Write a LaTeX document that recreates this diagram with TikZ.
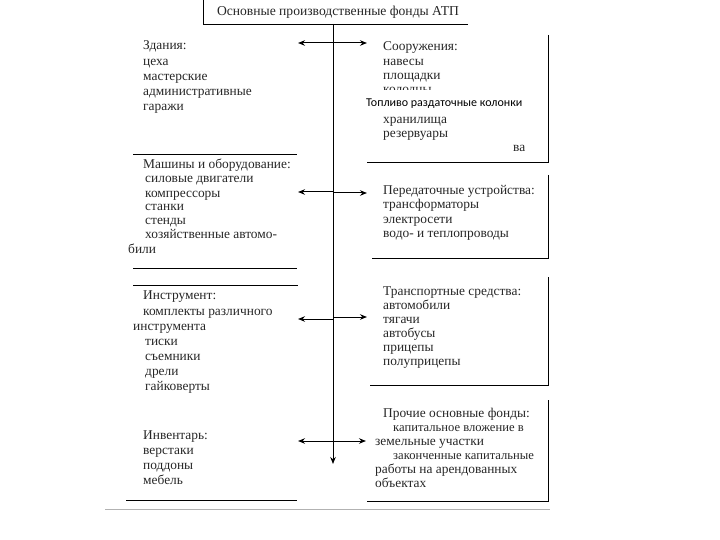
\documentclass[tikz,border=0pt]{standalone}
\usepackage{fontspec}
\setmainfont{Liberation Serif}
\newfontfamily\calibfont{Carlito}
\usetikzlibrary{arrows.meta}
\begin{document}
\begin{tikzpicture}[x=1pt,y=-1pt,
  txt/.style={anchor=base west,inner sep=0pt,text=black!85,font=\fontsize{13.4}{15}\selectfont},
  stxt/.style={txt,font=\fontsize{12.6}{15}\selectfont},
  ln/.style={line width=0.9pt,black},
  arr/.style={line width=1pt,{Stealth[length=7pt,width=5.5pt]}-{Stealth[length=7pt,width=5.5pt]}}]
\useasboundingbox (0,0) rectangle (720,540);
% top box
\node[anchor=center,inner sep=0pt,font=\fontsize{13.6}{15}\selectfont,text=black!85] (top) at (338,12) {Основные производственные фонды АТП};
\draw[ln] (468,24) -- (203,24) -- (203,0);
% spine
\coordinate (sp0) at (333,24);
\coordinate (sp1) at (333,464);
\draw[ln,-{Stealth[length=7pt,width=5.5pt]}] (sp0) -- (sp1);
% arrows
\coordinate (l1) at (298,43); \coordinate (r1) at (367,43);
\coordinate (l2) at (298,192); \coordinate (r2) at (367,193);
\draw[arr] (l1) -- (r1);
\draw[arr] (l2) -- (333,192) -- (333,193) -- (r2);
\coordinate (l3) at (298,319); \coordinate (r3) at (367,317);
\draw[arr] (l3) -- (333,319) -- (333,317) -- (r3);
\coordinate (l4) at (298,441); \coordinate (r4) at (366,441);
\draw[arr] (l4) -- (r4);
% left block 1
\node[txt] (a1) at (143,50) {Здания:};
\node[txt] (a2) at (143,65.5) {цеха};
\node[txt] (a3) at (143,81) {мастерские};
\node[txt] (a4) at (143,96) {административные};
\node[txt] (a5) at (143,111) {гаражи};
% left block 2
\draw[ln] (133,154) -- (297,154);
\node[txt] (b1) at (143,169) {Машины и оборудование:};
\node[txt] (b2) at (145,183) {силовые двигатели};
\node[txt] (b3) at (145,197) {компрессоры};
\node[txt] (b4) at (145,211) {станки};
\node[txt] (b5) at (145,225) {стенды};
\node[txt] (b6) at (145,239) {хозяйственные автомо-};
\node[txt] (b7) at (128,253) {били};
\draw[ln] (133,268) -- (297,268);
% left block 3
\draw[ln] (133,285) -- (298,285);
\node[txt] (c1) at (143,299) {Инструмент:};
\node[txt] (c2) at (143,315) {комплекты различного};
\node[txt] (c3) at (133,330) {инструмента};
\node[txt] (c4) at (145,345) {тиски};
\node[txt] (c5) at (145,360) {съемники};
\node[txt] (c6) at (145,375) {дрели};
\node[txt] (c7) at (145,390) {гайковерты};
% left block 4
\node[txt] (d1) at (143,439) {Инвентарь:};
\node[txt] (d2) at (143,454) {верстаки};
\node[txt] (d3) at (143,469) {поддоны};
\node[txt] (d4) at (143,484) {мебель};
\draw[ln] (126,500) -- (297,500);
% right box 1
\node[txt] (e1) at (383,51) {Сооружения:};
\node[txt] (e2) at (383,66) {навесы};
\node[txt] (e3) at (383,80) {площадки};
\node[txt] (e4) at (383,94) {колодцы};
\fill[white] (362,90) rectangle (530,113);
\node[anchor=base west,inner sep=0pt,font=\calibfont\fontsize{12}{13}\selectfont] (ov) at (366,107) {Топливо раздаточные колонки};
\node[txt] (e5) at (383,124) {хранилища};
\node[txt] (e6) at (383,138) {резервуары};
\node[txt] (e7) at (513,152) {ва};
\draw[ln] (548,35) -- (548,162) -- (367,162);
% right box 2
\node[txt] (f1) at (383,195) {Передаточные устройства:};
\node[txt] (f2) at (383,209) {трансформаторы};
\node[txt] (f3) at (383,223) {электросети};
\node[txt] (f4) at (383,237) {водо- и теплопроводы};
\draw[ln] (548,175) -- (548,258) -- (372,258);
% right box 3
\node[txt] (g1) at (383,295) {Транспортные средства:};
\node[txt] (g2) at (383,309) {автомобили};
\node[txt] (g3) at (383,323) {тягачи};
\node[txt] (g4) at (383,337) {автобусы};
\node[txt] (g5) at (383,351) {прицепы};
\node[txt] (g6) at (383,365) {полуприцепы};
\draw[ln] (548,277) -- (548,385) -- (370,385);
% right box 4
\node[txt] (h1) at (383,417) {Прочие основные фонды:};
\node[stxt] (h2) at (393,431) {капитальное вложение в};
\node[txt] (h3) at (375,445) {земельные участки};
\node[stxt] (h4) at (393,459) {законченные капитальные};
\node[txt] (h5) at (375,473) {работы на арендованных};
\node[txt] (h6) at (375,487) {объектах};
\draw[ln] (548,400) -- (548,501) -- (367,501);
% bottom gray line
\draw[black!30,line width=0.8pt] (105,509) -- (550,509);
\end{tikzpicture}
\end{document}
